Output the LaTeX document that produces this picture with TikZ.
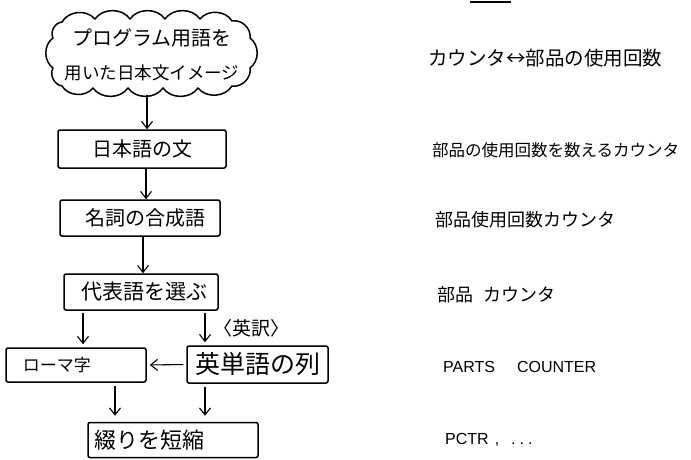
\documentclass[tikz,border=0pt]{standalone}
\usepackage{fontspec}
\setmainfont{Noto Sans CJK JP}
\newfontfamily\latinhand{Liberation Sans}
\usetikzlibrary{arrows.meta}
\begin{document}
\begin{tikzpicture}[x=1pt,y=-1pt,
  stepbox/.style={draw,line width=1.5pt,rounded corners=2pt,inner sep=0pt,font=\fontsize{20}{23}\selectfont},
  arr/.style={line width=1.1pt,-{Straight Barb[length=7pt,width=11pt,line width=1.1pt]}},
  rtext/.style={anchor=west,inner sep=0pt},
  cloudline/.style={line width=1.5pt,line join=round},
  bump/.style={bend left=55},
  ]
\useasboundingbox (0,0) rectangle (691,460);
% cloud
\draw[cloudline] (62,22) to[bump] (95,19) to[bump] (130,19) to[bump] (165,19) to[bump] (200,19)
  to[bump] (232,21) to[bump] (250,38) to[bump] (250,68) to[bump] (232,86) to[bump] (198,88)
  to[bump] (163,88) to[bump] (128,88) to[bump] (93,88) to[bump] (62,86) to[bump] (53,68)
  to[bump] (53,38) to[bump] (62,22) -- cycle;
\coordinate (cloudS) at (147,95);
\node[align=center,inner sep=0pt,font=\fontsize{20}{34}\selectfont] (cloudtxt) at (152,55) {プログラム用語を\\{\fontsize{17.5}{34}\selectfont 用いた日本文イメージ}};
% boxes
\node[stepbox,minimum width=168pt,minimum height=38pt] (b1) at (142,149) {日本語の文};
\node[stepbox,minimum width=160pt,minimum height=36pt] (b2) at (140,218) {\hspace{10pt}名詞の合成語};
\node[stepbox,minimum width=154pt,minimum height=36pt,font=\fontsize{21}{24}\selectfont] (b3) at (141,292) {\hspace{6pt}代表語を選ぶ};
\node[stepbox,minimum width=136pt,minimum height=34pt,text width=106pt,align=left,inner xsep=17pt,font=\fontsize{17}{20}\selectfont] (b4) at (76,365) {ローマ字};
\node[stepbox,minimum width=141pt,minimum height=37pt,font=\fontsize{25}{28}\selectfont] (b5) at (257.5,364.5) {英単語の列};
\node[stepbox,minimum width=170pt,minimum height=35pt,text width=158pt,align=left,inner xsep=6pt,font=\fontsize{22}{25}\selectfont] (b6) at (173,440) {綴りを短縮};
% arrows
\draw[arr] (cloudS) -- (b1.north -| cloudS);
\draw[arr] (b1.south -| 146,0) -- (b2.north -| 146,0);
\draw[arr] (b2.south -| 143,0) -- (b3.north -| 143,0);
\draw[arr,shorten <=2pt,shorten >=3pt] (b3.south -| 83,0) -- (b4.north -| 83,0);
\draw[arr,shorten <=2pt,shorten >=3pt] (b3.south -| 205,0) -- node[right=8pt,font=\fontsize{19}{22}\selectfont,inner sep=0pt] (lbl) {〈英訳〉} (b5.north -| 205,0);
\draw[arr,shorten <=3pt,shorten >=3pt] (b5.west) -- (b4.east);
\draw[arr,shorten <=3pt,shorten >=6pt] (b4.south -| 115,0) -- (b6.north -| 115,0);
\draw[arr,shorten <=3pt,shorten >=6pt] (b5.south -| 205,0) -- (b6.north -| 205,0);
% right column
\draw[line width=1.8pt] (470,2) -- (511,2);
\node[rtext,font=\fontsize{19.5}{24}\selectfont] (r1) at (428,58) {カウンタ↔部品の使用回数};
\node[rtext,font=\fontsize{16.5}{20}\selectfont] (r2) at (432,150) {部品の使用回数を数えるカウンタ};
\node[rtext,font=\fontsize{18}{22}\selectfont] (r3) at (435,220) {部品使用回数カウンタ};
\node[rtext,font=\fontsize{18}{22}\selectfont] (r4) at (437,295) {部品\hspace{10pt}カウンタ};
\node[rtext,font=\latinhand\fontsize{16}{20}\selectfont] (r5) at (443,367) {PARTS\hspace{22pt}COUNTER};
\node[rtext,font=\latinhand\fontsize{16}{20}\selectfont] (r6) at (445,440) {PCTR\hspace{6pt},\hspace{12pt}.\hspace{4pt}.\hspace{4pt}.};
\end{tikzpicture}
\end{document}
